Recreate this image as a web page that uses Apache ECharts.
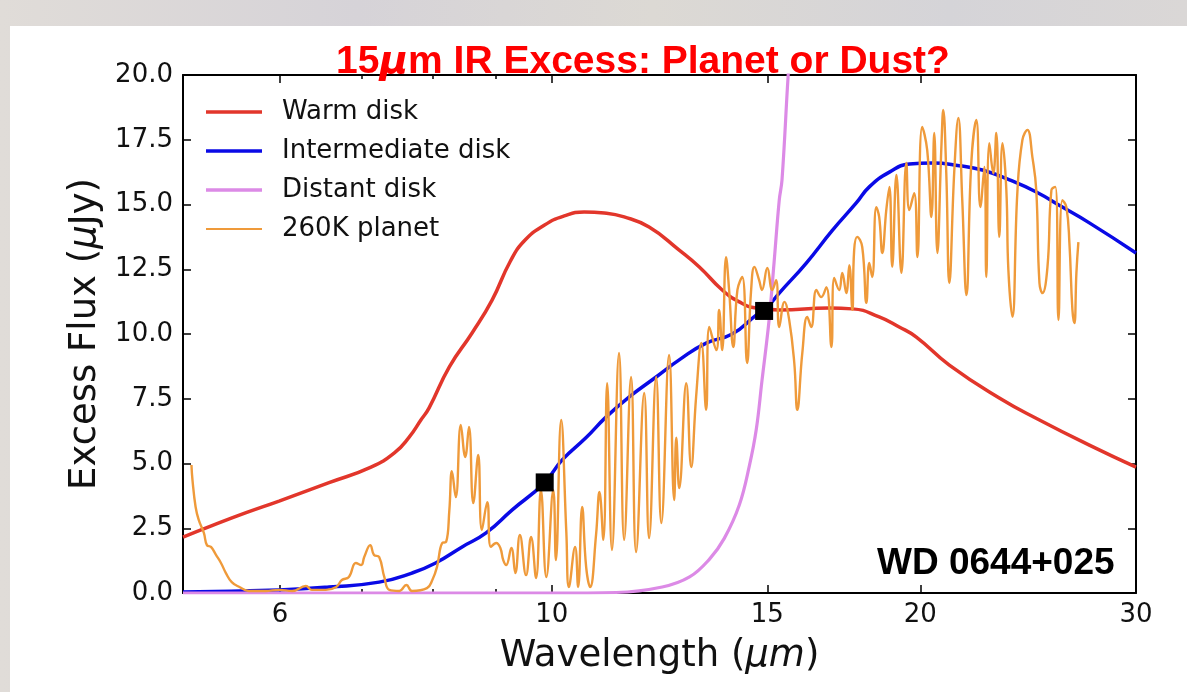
<!DOCTYPE html>
<html>
<head>
<meta charset="utf-8">
<script src="https://cdn.jsdelivr.net/npm/echarts@6/dist/echarts.min.js"></script>
<style>
  html, body { margin: 0; padding: 0; }
  body { width: 1187px; height: 692px; position: relative; overflow: hidden;
         background: linear-gradient(90deg, #e0dcd8 0%, #d6d3d8 30%, #dcd9d4 55%, #d5d4d8 80%, #dad7d6 100%); }
  #panel { position: absolute; left: 10px; top: 26px; right: 0; bottom: 0; background: #fff; }
  #main { position: absolute; left: 0; top: 0; width: 1187px; height: 692px; }
</style>
</head>
<body>
<div id="panel"></div>
<div id="main"></div>
<script>
// wavelength range (um) and ticks
var lambdaMin = 5, lambdaMax = 30;
var xMajorTicks = [6, 10, 15, 20, 30];
var xMinorTicks = [7, 8, 9];

// Warm disk
var warmX = [5.0, 5.28, 5.63, 5.99, 6.58, 7.12, 7.44, 7.65, 7.82, 7.94, 8.25, 8.61, 8.94, 9.25, 9.50, 9.86, 10.24, 10.63, 11.04, 11.46, 12.01, 12.71, 13.20, 13.78, 14.23, 14.69, 15.34, 16.85, 17.60, 18.51, 19.22, 19.85, 21.12, 23.20, 25.02, 27.48, 30.0];
var warmY = [2.16, 2.6, 3.1, 3.55, 4.26, 4.86, 5.41, 6.02, 6.68, 7.14, 8.73, 10.04, 11.31, 12.8, 13.6, 14.2, 14.56, 14.71, 14.67, 14.52, 14.13, 13.24, 12.59, 11.70, 11.24, 11.0, 10.93, 11.0, 10.97, 10.66, 10.27, 9.88, 8.80, 7.53, 6.68, 5.71, 4.86];

// Intermediate disk
var interX = [5.0, 5.99, 6.58, 7.23, 7.69, 8.04, 8.45, 8.84, 9.28, 9.86, 10.20, 10.67, 11.08, 11.57, 12.17, 12.71, 13.37, 14.04, 14.69, 14.97, 15.34, 16.14, 16.95, 17.73, 18.17, 18.87, 19.59, 20.46, 21.52, 22.47, 23.65, 24.87, 26.12, 27.48, 30.0];
var interY = [0.04, 0.12, 0.23, 0.42, 0.77, 1.16, 1.78, 2.32, 3.2, 4.25, 5.14, 6.0, 6.8, 7.57, 8.34, 9.0, 9.65, 10.0, 10.73, 11.0, 11.58, 12.74, 14.0, 15.06, 15.68, 16.25, 16.56, 16.6, 16.5, 16.33, 15.95, 15.48, 14.9, 14.29, 13.13];

// Distant disk
var distX = [5.0, 7.5, 10.0, 11.29, 12.31, 12.96, 13.45, 13.83, 14.23, 14.50, 14.69, 14.85, 15.05, 15.19, 15.34, 15.42, 15.60, 15.81];
var distY = [0, 0, 0, 0.02, 0.23, 0.62, 1.3, 2.1, 3.4, 4.9, 6.3, 8.2, 10.54, 12.74, 15.17, 15.95, 20.0, 24.0];

// 260K planet
var planetX = [5.08, 5.09, 5.12, 5.15, 5.20, 5.23, 5.27, 5.32, 5.37, 5.42, 5.48, 5.56, 5.66, 5.84, 5.99, 6.14, 6.30, 6.37, 6.54, 6.67,
  6.74, 6.83, 6.92, 6.99, 7.03, 7.11, 7.16, 7.23, 7.30, 7.37, 7.51, 7.61, 7.69, 7.91, 7.99, 8.06, 8.14, 8.20, 8.25, 8.29,
  8.35, 8.43, 8.50, 8.56, 8.63, 8.71, 8.77, 8.86, 8.92, 9.01, 9.08, 9.13, 9.18, 9.27, 9.34, 9.42, 9.53, 9.62, 9.71, 9.80,
  9.90, 10.03, 10.08, 10.18, 10.28, 10.33, 10.45, 10.51, 10.59, 10.67, 10.75, 10.87, 10.94, 11.02, 11.10, 11.20, 11.35, 11.46, 11.61, 11.72,
  11.90, 12.01, 12.17, 12.29, 12.47, 12.59, 12.64, 12.71, 12.88, 13.00, 13.12, 13.25, 13.37, 13.45, 13.63, 13.70, 13.78, 13.88, 13.96, 14.07,
  14.18, 14.31, 14.44, 14.55, 14.64, 14.77, 14.85, 15.00, 15.14, 15.25, 15.34, 15.49, 15.63, 15.78, 15.87, 16.02, 16.17, 16.29, 16.45, 16.60,
  16.76, 16.92, 17.01, 17.17, 17.27, 17.40, 17.50, 17.60, 17.66, 17.76, 17.93, 18.07, 18.17, 18.27, 18.41, 18.51, 18.62, 18.76, 18.87, 18.97,
  19.12, 19.30, 19.48, 19.59, 19.77, 19.89, 20.07, 20.26, 20.42, 20.53, 20.65, 20.81, 20.88, 21.00, 21.12, 21.32, 21.48, 21.64, 21.81, 22.01,
  22.22, 22.39, 22.56, 22.64, 22.77, 22.94, 23.07, 23.20, 23.34, 23.51, 23.60, 23.78, 24.00, 24.23, 24.46, 24.69, 24.87, 25.02, 25.16, 25.40,
  25.59, 25.78, 25.93, 26.12, 26.32, 26.47, 26.62, 26.72, 26.82, 26.92];
var planetY = [4.94, 4.36, 3.32, 2.82, 2.32, 1.85, 1.78, 1.47, 1.16, 0.77, 0.42, 0.23, 0.08, 0.08, 0.12, 0.08, 0.27, 0.12, 0.12, 0.23,
  0.50, 0.62, 1.16, 1.08, 1.39, 1.85, 1.47, 1.39, 0.62, 0.12, 0.08, 0.31, 0.08, 0.19, 0.50, 1.00, 1.93, 1.97, 3.20, 4.70,
  3.70, 6.49, 5.25, 6.41, 3.47, 5.33, 2.43, 3.51, 1.78, 1.93, 1.74, 1.27, 1.08, 1.74, 0.77, 2.24, 0.69, 2.16, 0.58, 3.98,
  0.62, 3.98, 1.27, 6.68, 2.32, 0.23, 1.78, 0.23, 3.32, 1.00, 0.23, 2.24, 3.90, 2.05, 8.10, 1.66, 9.27, 2.05, 8.34, 1.58,
  7.72, 2.12, 8.34, 2.70, 9.19, 3.59, 6.00, 4.05, 8.10, 4.86, 7.57, 9.65, 7.07, 10.27, 9.38, 10.93, 9.38, 12.97, 11.70, 9.50,
  11.70, 12.20, 8.88, 11.70, 12.59, 12.08, 11.70, 12.55, 11.70, 12.08, 10.27, 11.24, 10.54, 8.88, 7.07, 9.27, 10.66, 10.27, 11.70, 11.43,
  11.81, 9.50, 12.16, 11.70, 12.36, 11.58, 12.66, 10.93, 13.24, 13.75, 13.36, 11.20, 12.74, 12.20, 14.90, 14.52, 13.13, 14.79, 15.68, 12.59,
  16.14, 12.36, 16.60, 14.79, 15.44, 12.97, 17.99, 17.10, 14.52, 17.76, 13.13, 17.30, 18.65, 16.20, 11.97, 16.33, 18.34, 15.17, 11.50, 16.60,
  18.26, 14.90, 16.45, 12.20, 17.37, 16.20, 17.76, 13.75, 17.37, 15.56, 12.47, 10.66, 15.44, 17.49, 17.88, 16.83, 15.56, 11.97, 11.58, 12.59,
  15.56, 15.68, 10.54, 15.17, 14.90, 13.51, 10.93, 10.42, 12.36, 13.55];

// black square markers
var markX = [9.87, 14.91];
var markY = [4.27, 10.89];

var lg = function (v) { return Math.log10(v); };
var pairs = function (xs, ys) { return xs.map(function (x, i) { return [lg(x), ys[i]]; }); };

var tickFont = 'DejaVu Sans';
var thickIcon = 'path://M0,0h0.01v0.01h-0.01z M0,3.2h56v3.6h-56z M70.99,9.99h0.01v0.01h-0.01z';
var thinIcon = 'path://M0,0h0.01v0.01h-0.01z M0,4h56v2h-56z M70.99,9.99h0.01v0.01h-0.01z';

var xBase = {
    type: 'value', gridIndex: 0,
    min: lg(lambdaMin), max: lg(lambdaMax),
    splitLine: { show: false }
};
function xAxisOf(pos, ticks, len, showLine, showLabel) {
    return Object.assign({}, xBase, {
        position: pos,
        axisLine: { show: showLine, onZero: false, lineStyle: { color: '#000', width: 2 } },
        axisTick: { show: true, inside: true, length: len, customValues: ticks.map(lg), lineStyle: { color: '#000', width: 1.5 } },
        axisLabel: { show: showLabel, customValues: ticks.map(lg), margin: 9, fontSize: 26, fontFamily: tickFont, color: '#111',
            formatter: function (v) { return String(Math.round(Math.pow(10, v))); } }
    });
}

var xAxes = [
    xAxisOf('bottom', xMajorTicks, 8, true, true),
    xAxisOf('bottom', xMinorTicks, 4, false, false),
    xAxisOf('top', xMajorTicks, 8, true, false),
    xAxisOf('top', xMinorTicks, 4, false, false)
];
xAxes[0].name = '{n|Wavelength (}{i|μm}{n|)}';
xAxes[0].nameLocation = 'middle';
xAxes[0].nameGap = 45;
xAxes[0].nameTextStyle = { rich: {
    n: { fontSize: 37, fontFamily: tickFont, color: '#111' },
    i: { fontSize: 37, fontFamily: tickFont, fontStyle: 'italic', color: '#111' }
} };

var yBase = {
    type: 'value', min: 0, max: 20, interval: 2.5,
    splitLine: { show: false },
    axisLine: { show: true, onZero: false, lineStyle: { color: '#000', width: 2 } },
    axisTick: { show: true, inside: true, length: 8, lineStyle: { color: '#000', width: 1.5 } }
};

var chart = echarts.init(document.getElementById('main'), null, { renderer: 'canvas' });
chart.setOption({
    animation: false,
    backgroundColor: 'transparent',
    title: [{
        text: '{a|15}{b|μ}{a|m IR Excess: Planet or Dust?}',
        left: 331, top: 38,
        textStyle: { rich: {
            a: { fontSize: 39, fontWeight: 'bold', fontFamily: 'Liberation Sans', color: '#ff0000' },
            b: { fontSize: 39, fontWeight: 'bold', fontStyle: 'italic', fontFamily: 'DejaVu Sans', color: '#ff0000' }
        } }
    }, {
        text: 'WD 0644+025',
        left: 872, top: 540,
        textStyle: { fontSize: 37, fontWeight: 'bold', fontFamily: 'Liberation Sans', color: '#000' }
    }],
    grid: { left: 183, top: 75, width: 953, height: 518, outerBoundsMode: 'none' },
    legend: {
        orient: 'vertical', left: 201, top: 94,
        itemWidth: 71, itemHeight: 10, itemGap: 13,
        symbolKeepAspect: false,
        itemStyle: { borderWidth: 0 },
        textStyle: { fontSize: 26, fontFamily: tickFont, color: '#111', lineHeight: 26 },
        data: [
            { name: 'Warm disk', icon: thickIcon },
            { name: 'Intermediate disk', icon: thickIcon },
            { name: 'Distant disk', icon: thickIcon },
            { name: '260K planet', icon: thinIcon }
        ]
    },
    xAxis: xAxes,
    yAxis: [
        Object.assign({}, yBase, {
            position: 'left',
            axisLabel: { margin: 10, fontSize: 26, fontFamily: tickFont, color: '#111',
                formatter: function (v) { return v.toFixed(1); } },
            name: '{n|Excess Flux (}{i|μ}{n|Jy)}',
            nameLocation: 'middle', nameRotate: 90, nameGap: 76,
            nameTextStyle: { rich: {
                n: { fontSize: 37, fontFamily: tickFont, color: '#111' },
                i: { fontSize: 37, fontFamily: tickFont, fontStyle: 'italic', color: '#111' }
            } }
        }),
        Object.assign({}, yBase, { position: 'right', axisLabel: { show: false } })
    ],
    series: [
        { name: 'Warm disk', type: 'line', data: pairs(warmX, warmY), symbol: 'none', smooth: 0.5,
          color: '#e2362b', lineStyle: { width: 3.5 } },
        { name: 'Intermediate disk', type: 'line', data: pairs(interX, interY), symbol: 'none', smooth: 0.5,
          color: '#0a0ae6', lineStyle: { width: 3.5 } },
        { name: 'Distant disk', type: 'line', data: pairs(distX, distY), symbol: 'none', smooth: 0.4,
          color: '#dc8ae6', lineStyle: { width: 3.2 } },
        { name: '260K planet', type: 'line', data: pairs(planetX, planetY), symbol: 'none', smooth: 0.45,
          color: '#ef9a3a', lineStyle: { width: 2.4 } },
        { name: 'markers', type: 'scatter', data: pairs(markX, markY), symbol: 'rect', symbolSize: 18,
          itemStyle: { color: '#000', opacity: 1 }, z: 5 }
    ]
});
</script>
</body>
</html>
